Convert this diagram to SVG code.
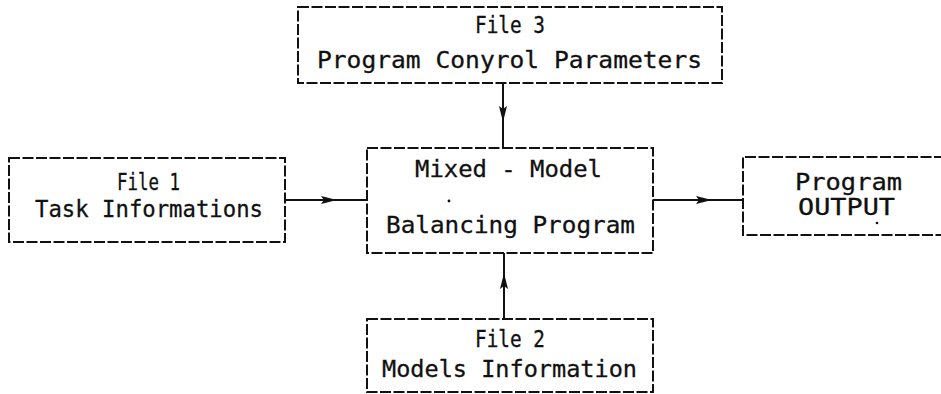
<svg xmlns="http://www.w3.org/2000/svg" width="941" height="394" viewBox="0 0 941 394">
<style>
.box{fill:none;stroke:#111;stroke-width:2;stroke-dasharray:11 2.5}
.ln{fill:none;stroke:#111;stroke-width:2}
.t{font-family:"DejaVu Sans Mono","Liberation Mono",monospace;font-size:23px;fill:#111;stroke:#111;stroke-width:0.3;text-anchor:start}
</style>
<defs>
<marker id="ah" markerUnits="userSpaceOnUse" markerWidth="18" markerHeight="10" refX="16" refY="5" orient="auto">
<path d="M0,1 L16,5 L0,9 L3,5 z" fill="#111"/>
</marker>
</defs>
<rect width="941" height="394" fill="#fff"/>
<g id="connectors">
<path class="ln" d="M285,200 H337" marker-end="url(#ah)"/>
<path class="ln" d="M336,200 H367"/>
<path class="ln" d="M653,200 H712" marker-end="url(#ah)"/>
<path class="ln" d="M711,200 H743"/>
<path class="ln" d="M503,83 V122" marker-end="url(#ah)"/>
<path class="ln" d="M503,121 V148"/>
<path class="ln" d="M504,319 V273" marker-end="url(#ah)"/>
<path class="ln" d="M504,274 V253"/>
</g>
<g id="file3">
<rect class="box" x="298" y="7" width="424" height="76"/>
<text class="t" x="475" y="33" textLength="70" lengthAdjust="spacingAndGlyphs">File 3</text>
<text class="t" x="317" y="68" textLength="385" lengthAdjust="spacingAndGlyphs">Program Conyrol Parameters</text>
</g>
<g id="file1">
<rect class="box" x="9" y="158" width="276" height="84"/>
<text class="t" x="117" y="190" textLength="63" lengthAdjust="spacingAndGlyphs">File 1</text>
<text class="t" x="35" y="217" textLength="228" lengthAdjust="spacingAndGlyphs">Task Informations</text>
</g>
<g id="program">
<rect class="box" x="367" y="148" width="286" height="105"/>
<text class="t" x="415" y="177" textLength="187" lengthAdjust="spacingAndGlyphs">Mixed - Model</text>
<circle cx="449" cy="201" r="1.4" fill="#111"/>
<text class="t" x="386" y="233" textLength="249" lengthAdjust="spacingAndGlyphs">Balancing Program</text>
</g>
<g id="output">
<path class="box" d="M945,157 H743 V235 H945"/>
<text class="t" x="795" y="190" textLength="107" lengthAdjust="spacingAndGlyphs">Program</text>
<text class="t" x="798" y="215" textLength="97" lengthAdjust="spacingAndGlyphs">OUTPUT</text>
<circle cx="877" cy="223" r="1.3" fill="#111"/>
</g>
<g id="file2">
<rect class="box" x="367" y="319" width="286" height="73"/>
<text class="t" x="475" y="347" textLength="70" lengthAdjust="spacingAndGlyphs">File 2</text>
<text class="t" x="382" y="377" textLength="255" lengthAdjust="spacingAndGlyphs">Models Information</text>
</g>
</svg>
